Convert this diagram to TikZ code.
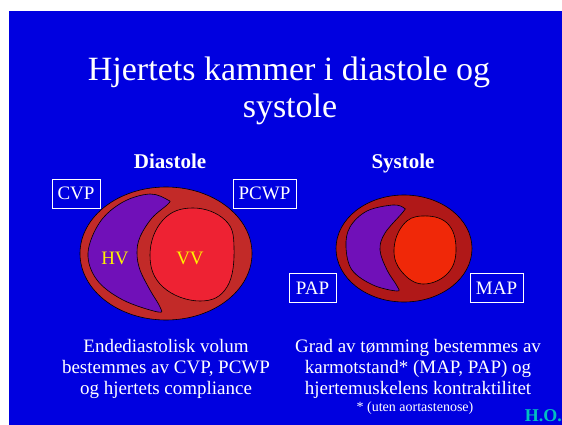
\documentclass[tikz,border=0pt]{standalone}
\usepackage{fontspec}
\setmainfont{Liberation Serif}
\usepackage{tikz}

\definecolor{slide}{RGB}{0,0,224}
\definecolor{wall}{RGB}{194,42,40}
\definecolor{wallsys}{RGB}{176,24,24}
\definecolor{hvcol}{RGB}{112,16,184}
\definecolor{vvcol}{RGB}{238,34,51}
\definecolor{vvsys}{RGB}{240,40,8}
\definecolor{initials}{RGB}{0,192,192}

\tikzset{
  txt/.style={text=white, inner sep=0pt, anchor=base},
  pressure/.style={draw=white, thin, text=white, minimum width=#1, minimum height=29pt,
    inner sep=0pt, font=\fontsize{19}{19}\selectfont},
  chamber/.style={draw=black, line width=0.6pt}
}

\begin{document}
\begin{tikzpicture}[x=1pt, y=-1pt]
        \useasboundingbox (0,0) rectangle (562,425);
        \fill [slide] (9,11) rectangle (562,425);

        % title
        \node [txt, font=\fontsize{34}{37}\selectfont] (title1) at (289, 81) {Hjertets kammer i diastole og};
        \node [txt, font=\fontsize{34}{37}\selectfont] (title2) at (290, 118) {systole};

        % headings
        \node [txt, font=\fontsize{21}{21}\selectfont\bfseries] (dia) at (170, 168) {Diastole};
        \node [txt, font=\fontsize{21}{21}\selectfont\bfseries] (sys) at (403, 168) {Systole};

        % diastole heart
        \draw [chamber, fill=wall] (166, 253.5) ellipse (86 and 66.5);
        \draw [chamber, fill=hvcol] plot [smooth cycle, tension=0.6]
          coordinates{(168,200) (150,194) (123,202) (100,222) (88,253) (97,280) (123,300)
                      (158,312) (160,307) (150,290) (140,270) (137,253) (140,237) (152,218) (168,204)};
        \draw [chamber, fill=vvcol] plot [smooth cycle, tension=0.7]
          coordinates{(193,208) (225,220) (234,247) (227,287) (200,301) (163,287) (150,255) (163,220)};
        \node [text=yellow, inner sep=0pt, font=\fontsize{19}{19}\selectfont] (hv) at (115, 258) {HV};
        \node [text=yellow, inner sep=0pt, font=\fontsize{19}{19}\selectfont] (vv) at (190, 258) {VV};

        % systole heart
        \draw [chamber, fill=wallsys] (404, 248.5) ellipse (68 and 53.5);
        \draw [chamber, fill=hvcol] plot [smooth cycle, tension=0.6]
          coordinates{(404,208) (393,205) (367,211) (350,227) (346,247) (352,270) (373,285)
                      (397,291) (397,286) (387,270) (380,250) (385,233) (403,212)};
        \draw [chamber, fill=vvsys] plot [smooth cycle, tension=0.7]
          coordinates{(422,216) (447,223) (456,248) (448,273) (423,284) (402,272) (394,250) (403,225)};

        % pressures
        \node [pressure=48pt] (cvp) at (76, 193.5) {CVP};
        \node [pressure=63pt] (pcwp) at (264.5, 193.5) {PCWP};
        \node [pressure=47pt] (pap) at (312.5, 288) {PAP};
        \node [pressure=53pt] (map) at (496.5, 288) {MAP};

        % notes under the hearts
        \node [txt, font=\fontsize{19}{21}\selectfont] (dnote1) at (166, 352) {Endediastolisk volum};
        \node [txt, font=\fontsize{19}{21}\selectfont] (dnote2) at (166, 373) {bestemmes av CVP, PCWP};
        \node [txt, font=\fontsize{19}{21}\selectfont] (dnote3) at (166, 394) {og hjertets compliance};

        \node [txt, font=\fontsize{19}{21}\selectfont] (snote1) at (418, 352) {Grad av tømming bestemmes av};
        \node [txt, font=\fontsize{19}{21}\selectfont] (snote2) at (418, 373) {karmotstand* (MAP, PAP) og};
        \node [txt, font=\fontsize{19}{21}\selectfont] (snote3) at (418, 394) {hjertemuskelens kontraktilitet};
        \node [txt, font=\fontsize{14}{14}\selectfont] (snote4) at (415, 411) {* (uten aortastenose)};

        % H.O.
        \node [inner sep=0pt, anchor=base east, text=initials, font=\fontsize{18}{18}\selectfont\bfseries] (ho) at (562, 421) {H.O.};

      \end{tikzpicture}
\end{document}
